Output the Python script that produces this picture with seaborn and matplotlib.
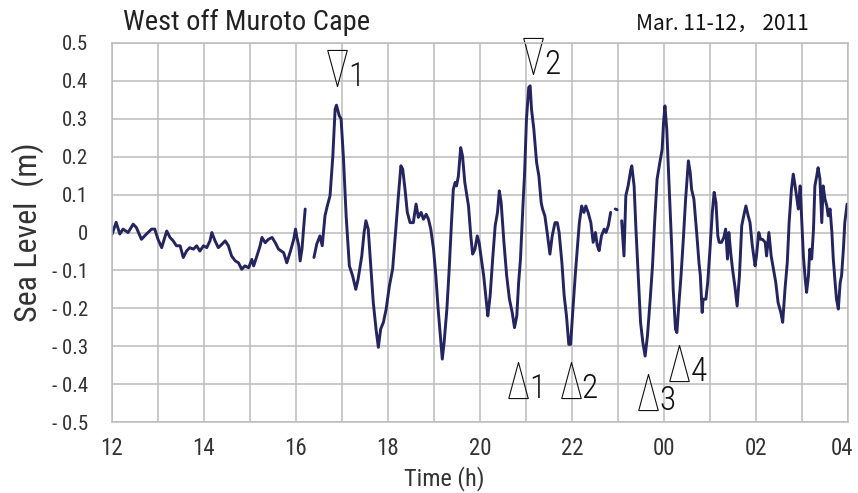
import pandas as pd
import matplotlib
matplotlib.use("Agg")
import matplotlib.pyplot as plt
import matplotlib.transforms as mtransforms
import seaborn as sns

# sea level record, west off Muroto Cape (hours since 00:00 Mar. 11, values in m)
seg1_time = [12.00, 12.09, 12.17, 12.24, 12.35, 12.46, 12.53, 12.64, 12.75, 12.86,
             12.93, 13.00, 13.08, 13.19, 13.26, 13.33, 13.40, 13.48, 13.55, 13.62,
             13.69, 13.77, 13.84, 13.91, 13.99, 14.06, 14.13, 14.17, 14.24, 14.31,
             14.39, 14.46, 14.53, 14.60, 14.68, 14.75, 14.82, 14.89, 14.97, 15.04,
             15.08, 15.15, 15.22, 15.26, 15.33, 15.40, 15.48, 15.55, 15.62, 15.73,
             15.80, 15.88, 15.95, 15.99, 16.02, 16.06, 16.09, 16.13, 16.17, 16.20]
seg1_level = [-0.005, 0.027, -0.004, 0.009, 0.000, 0.022, 0.013, -0.018, -0.004, 0.009,
              0.009, -0.018, -0.040, 0.004, -0.013, -0.022, -0.035, -0.035, -0.066, -0.049,
              -0.040, -0.044, -0.035, -0.049, -0.035, -0.040, -0.022, 0.000, -0.022, -0.040,
              -0.031, -0.022, -0.035, -0.062, -0.075, -0.080, -0.097, -0.088, -0.093, -0.071,
              -0.088, -0.062, -0.035, -0.013, -0.027, -0.018, -0.013, -0.027, -0.044, -0.053,
              -0.080, -0.049, -0.018, 0.009, -0.013, -0.035, -0.075, -0.044, 0.018, 0.062]

seg2_time = [16.39, 16.45, 16.52, 16.57, 16.63, 16.68, 16.74, 16.80, 16.85, 16.88,
             16.94, 16.98, 17.03, 17.09, 17.16, 17.23, 17.30, 17.35, 17.43, 17.48,
             17.52, 17.57, 17.62, 17.68, 17.74, 17.79, 17.84, 17.90, 17.96, 18.03,
             18.10, 18.17, 18.22, 18.28, 18.32, 18.37, 18.42, 18.48, 18.55, 18.61,
             18.66, 18.72, 18.77, 18.83, 18.88, 18.93, 18.99, 19.04, 19.09, 19.15,
             19.18, 19.22, 19.28, 19.33, 19.38, 19.42, 19.46, 19.49, 19.53, 19.58,
             19.62, 19.67, 19.75, 19.80, 19.84, 19.89, 19.94, 19.98, 20.04, 20.08,
             20.14, 20.17, 20.22, 20.28, 20.33, 20.38, 20.42, 20.46, 20.52, 20.58,
             20.64, 20.70, 20.75, 20.80, 20.84, 20.88, 20.93, 20.97, 21.01, 21.06,
             21.09, 21.12, 21.17, 21.23, 21.28, 21.33, 21.36, 21.41, 21.46, 21.52,
             21.57, 21.63, 21.68, 21.72, 21.78, 21.83, 21.88, 21.93, 21.97, 22.02,
             22.07, 22.12, 22.16, 22.21, 22.26, 22.30, 22.35, 22.41, 22.46, 22.51,
             22.55, 22.59, 22.64, 22.70, 22.74, 22.79, 22.84]
seg2_level = [-0.066, -0.031, -0.009, -0.035, 0.044, 0.070, 0.097, 0.200, 0.325, 0.336,
              0.308, 0.300, 0.200, 0.044, -0.088, -0.114, -0.150, -0.123, -0.062, 0.000,
              0.031, 0.009, -0.079, -0.185, -0.255, -0.303, -0.255, -0.237, -0.202, -0.141,
              -0.097, 0.009, 0.088, 0.176, 0.167, 0.114, 0.053, 0.026, 0.026, 0.075,
              0.040, 0.053, 0.035, 0.048, 0.035, 0.009, -0.044, -0.114, -0.202, -0.290,
              -0.334, -0.290, -0.202, -0.097, 0.026, 0.114, 0.132, 0.123, 0.149, 0.224,
              0.202, 0.132, 0.070, -0.009, -0.057, -0.044, -0.009, -0.026, -0.079, -0.114,
              -0.185, -0.220, -0.167, -0.062, 0.018, 0.053, 0.110, 0.079, -0.026, -0.114,
              -0.176, -0.211, -0.251, -0.220, -0.132, -0.070, 0.062, 0.158, 0.299, 0.383,
              0.387, 0.325, 0.273, 0.185, 0.149, 0.079, 0.062, 0.044, 0.000, -0.057,
              -0.009, 0.026, 0.026, 0.000, -0.079, -0.167, -0.220, -0.295, -0.295, -0.202,
              -0.114, -0.035, 0.026, 0.070, 0.053, 0.070, 0.053, 0.026, -0.026, 0.000,
              -0.035, -0.048, -0.009, 0.009, 0.000, 0.018, 0.053]

seg3_time = [22.94, 22.98]
seg3_level = [0.062, 0.060]

seg4_time = [23.08, 23.13, 23.17, 23.22, 23.28, 23.30, 23.35, 23.39, 23.44, 23.49,
             23.54, 23.59, 23.64, 23.70, 23.75, 23.80, 23.85, 23.91, 23.96, 23.99,
             24.02, 24.06, 24.12, 24.17, 24.20, 24.25, 24.28, 24.32, 24.37, 24.42,
             24.47, 24.53, 24.57, 24.60, 24.65, 24.71, 24.76, 24.79, 24.83, 24.85,
             24.91, 24.95, 25.00, 25.05, 25.09, 25.13, 25.17, 25.20, 25.25, 25.30,
             25.34, 25.38, 25.41, 25.45, 25.49, 25.54, 25.59, 25.64, 25.69, 25.74,
             25.78, 25.83, 25.87, 25.92, 25.98, 26.01, 26.06, 26.10, 26.14, 26.20,
             26.23, 26.28, 26.33, 26.38, 26.43, 26.48, 26.54, 26.58, 26.63, 26.68,
             26.72, 26.77, 26.81, 26.85, 26.88, 26.92, 26.96, 26.99, 27.03, 27.07,
             27.10, 27.14, 27.17, 27.21, 27.25, 27.28, 27.32, 27.35, 27.39, 27.43,
             27.46, 27.50, 27.54, 27.57, 27.61, 27.65, 27.68, 27.72, 27.75, 27.79,
             27.83, 27.86, 27.90, 27.93, 27.98]
seg4_level = [0.031, -0.062, 0.097, 0.123, 0.167, 0.176, 0.123, 0.009, -0.114, -0.237,
              -0.290, -0.326, -0.273, -0.176, -0.088, 0.035, 0.141, 0.185, 0.220, 0.290,
              0.334, 0.273, 0.097, -0.044, -0.150, -0.255, -0.264, -0.194, -0.114, -0.018,
              0.088, 0.189, 0.158, 0.114, 0.088, 0.000, -0.079, -0.114, -0.211, -0.176,
              -0.176, -0.132, -0.044, 0.053, 0.106, 0.079, -0.009, -0.026, -0.026, -0.013,
              0.009, -0.070, 0.000, -0.053, -0.097, -0.141, -0.194, -0.114, 0.018, 0.048,
              0.070, 0.044, 0.026, -0.035, -0.088, -0.062, 0.000, -0.018, -0.018, -0.026,
              -0.062, 0.000, -0.062, -0.097, -0.132, -0.185, -0.211, -0.237, -0.150, -0.079,
              0.026, 0.114, 0.154, 0.123, 0.097, 0.062, 0.123, 0.044, -0.062, -0.123,
              -0.158, -0.114, -0.044, -0.070, 0.009, 0.123, 0.149, 0.171, 0.141, 0.026,
              0.123, 0.088, 0.070, 0.044, 0.062, 0.000, -0.070, -0.132, -0.176, -0.202,
              -0.132, -0.114, -0.044, 0.026, 0.075]

# wave crests (down triangles) and troughs (up triangles)
crest_labels = ["1", "2"]
crest_time = [16.89, 21.15]
crest_level = [0.435, 0.465]
trough_labels = ["1", "2", "3", "4"]
trough_time = [20.83, 21.97, 23.65, 24.33]
trough_level = [-0.389, -0.390, -0.420, -0.344]

hour_ticks = list(range(12, 29))
hour_labels = ["12", "", "14", "", "16", "", "18", "", "20", "", "22", "", "00", "", "02", "", "04"]
level_ticks = [0.5, 0.4, 0.3, 0.2, 0.1, 0.0, -0.1, -0.2, -0.3, -0.4, -0.5]
level_labels = ["0.5", "0.4", "0.3", "0.2", "0.1", "0", "- 0.1", "- 0.2", "- 0.3", "- 0.4", "- 0.5"]

segments = [(seg1_time, seg1_level), (seg2_time, seg2_level),
            (seg3_time, seg3_level), (seg4_time, seg4_level)]
df = pd.concat([pd.DataFrame({"time": t, "level": v, "segment": i})
                for i, (t, v) in enumerate(segments)], ignore_index=True)

sns.set_style("white")
narrow = ["Roboto Condensed", "Liberation Sans Narrow", "Roboto", "DejaVu Sans"]
plt.rcParams["font.family"] = narrow
plt.rcParams["font.stretch"] = "condensed"

fig = plt.figure(figsize=(8.58, 4.93), dpi=100)
ax = fig.add_axes([112 / 858, 1 - 422 / 493, 736 / 858, 379 / 493])

sns.lineplot(data=df, x="time", y="level", units="segment", estimator=None,
             sort=False, color="#24245e", lw=2.1, ax=ax, legend=False)

ax.set_xlim(12, 28)
ax.set_ylim(-0.5, 0.5)
ax.set_xticks(hour_ticks)
ax.set_xticklabels(hour_labels, fontsize=16.5)
ax.set_yticks(level_ticks)
ax.set_yticklabels(level_labels, fontsize=15)
ax.grid(True, color="#bcbcbc", lw=1.1)
ax.set_axisbelow(True)
for s in ax.spines.values():
    s.set_color("#bcbcbc")
    s.set_linewidth(1.1)
ax.tick_params(axis="x", length=4, color="#bcbcbc", pad=7, labelcolor="#333333")
ax.tick_params(axis="y", length=4, color="#bcbcbc", pad=13, labelcolor="#333333")

# the last hour label sits at the figure edge, nudge it inwards a little
last = ax.get_xticklabels()[-1]
last.set_transform(last.get_transform()
                   + mtransforms.ScaledTranslation(-4 / 72, 0, fig.dpi_scale_trans))

ax.set_xlabel("Time (h)", fontsize=17.5, color="#333333")
ax.xaxis.set_label_coords((444 - 112) / 736, -0.115)
ax.set_ylabel("Sea Level  (m)", fontsize=23, color="#333333", labelpad=6)

fig.text(123 / 858, 1 - 22 / 493, "West off Muroto Cape", fontsize=20.5,
         color="#222222", va="center", ha="left")
fig.text(636 / 858, 1 - 24 / 493, "Mar. 11-12， 2011", fontsize=15,
         family=["Noto Sans CJK JP", "DejaVu Sans"], stretch="normal",
         color="#111111", va="center", ha="left")

down_tri = [(-0.27, 0.5), (0.27, 0.5), (0.0, -0.5), (-0.27, 0.5)]
up_tri = [(-0.27, -0.5), (0.27, -0.5), (0.0, 0.5), (-0.27, -0.5)]
ax.plot(crest_time, crest_level, ls="none", marker=down_tri, ms=26,
        mfc="none", mec="#111111", mew=0.8, clip_on=False)
ax.plot(trough_time, trough_level, ls="none", marker=up_tri, ms=26,
        mfc="none", mec="#111111", mew=0.8, clip_on=False)
for lab, t, v in zip(crest_labels + trough_labels, crest_time + trough_time,
                     crest_level + trough_level):
    ax.annotate(lab, (t, v), xytext=(8, -13), textcoords="offset points",
                ha="left", va="baseline", fontsize=24, fontweight="light",
                color="#111111", annotation_clip=False)

fig.savefig("out.png", dpi=100)
